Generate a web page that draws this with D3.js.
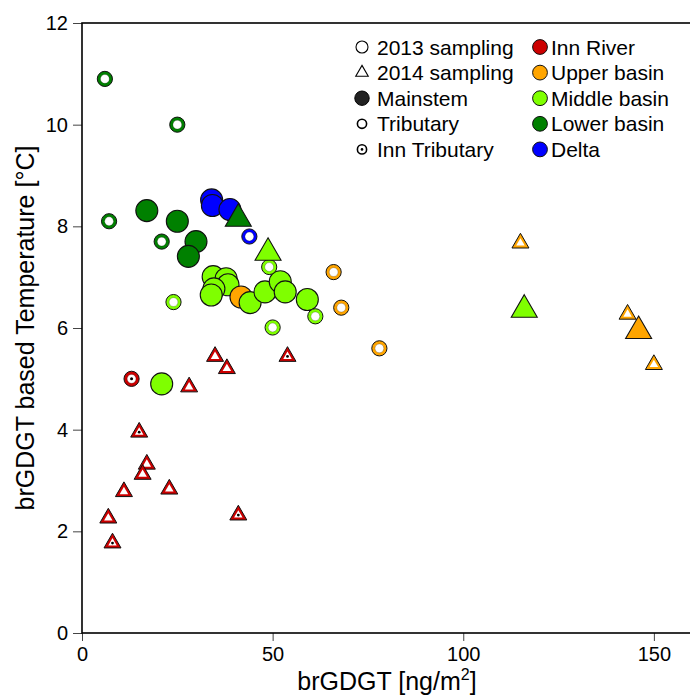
<!DOCTYPE html>
<html>
<head>
<meta charset="utf-8">
<script src="https://cdn.jsdelivr.net/npm/d3@7/dist/d3.min.js"></script>
<style>
  body { margin: 0; background: #fff; }
  svg text { font-family: "Liberation Sans", Arial, Helvetica, sans-serif; fill: #000; }
</style>
</head>
<body>
<svg id="chart" width="690" height="695"></svg>
<script>
// ---- data -------------------------------------------------------------
const regions = ["Inn River", "Upper basin", "Middle basin", "Lower basin", "Delta"];
const samplingLabels = ["2013 sampling", "2014 sampling", "Mainstem", "Tributary", "Inn Tributary"];
const xTicks = [0, 50, 100, 150];
const yTicks = [0, 2, 4, 6, 8, 10, 12];

// [region, brGDGT (ng/m2), temperature (°C)]
const mainstem2013 = [
  ["Lower basin", 17.0, 8.31],
  ["Lower basin", 25.0, 8.10],
  ["Lower basin", 29.9, 7.70],
  ["Lower basin", 27.9, 7.41],
  ["Delta", 34.0, 8.52],
  ["Delta", 34.2, 8.41],
  ["Delta", 38.8, 8.33],
  ["Middle basin", 34.4, 7.01],
  ["Middle basin", 37.8, 6.97],
  ["Middle basin", 38.3, 6.85],
  ["Middle basin", 34.6, 6.77],
  ["Middle basin", 33.9, 6.65],
  ["Upper basin", 41.7, 6.61],
  ["Middle basin", 44.1, 6.50],
  ["Middle basin", 48.0, 6.71],
  ["Middle basin", 52.0, 6.91],
  ["Middle basin", 53.3, 6.71],
  ["Middle basin", 59.1, 6.56],
  ["Middle basin", 20.9, 4.90]
];
const tributary2013 = [
  ["Lower basin", 6.0, 10.90],
  ["Lower basin", 25.0, 10.00],
  ["Lower basin", 7.1, 8.10],
  ["Lower basin", 20.9, 7.70],
  ["Delta", 43.9, 7.80],
  ["Middle basin", 49.1, 7.20],
  ["Middle basin", 24.0, 6.51],
  ["Middle basin", 50.0, 6.01],
  ["Middle basin", 61.2, 6.23],
  ["Upper basin", 66.0, 7.10],
  ["Upper basin", 68.0, 6.40],
  ["Upper basin", 78.0, 5.60]
];
const innTributary2013 = [
  ["Inn River", 13.0, 5.00]
];
const mainstem2014 = [
  ["Lower basin", 41.0, 8.15],
  ["Middle basin", 48.8, 7.48],
  ["Middle basin", 116.0, 6.36],
  ["Upper basin", 146.0, 5.94]
];
const tributary2014 = [
  ["Inn River", 34.9, 5.44],
  ["Inn River", 38.0, 5.20],
  ["Inn River", 28.1, 4.84],
  ["Inn River", 17.0, 3.32],
  ["Inn River", 15.9, 3.12],
  ["Inn River", 11.0, 2.78],
  ["Inn River", 22.9, 2.83],
  ["Inn River", 6.9, 2.26],
  ["Upper basin", 115.0, 7.67],
  ["Upper basin", 143.1, 6.27],
  ["Upper basin", 150.0, 5.28]
];
const innTributary2014 = [
  ["Inn River", 15.0, 3.95],
  ["Inn River", 41.0, 2.32],
  ["Inn River", 8.0, 1.77],
  ["Inn River", 53.9, 5.44]
];

// ---- layout -----------------------------------------------------------
const svg = d3.select("#chart");
const plot = { left: 82, right: 692, top: 23, bottom: 633 };

const x = d3.scaleLinear().domain([0, 160]).range([plot.left, plot.right]);
const y = d3.scaleLinear().domain([0, 12]).range([plot.bottom, plot.top]);
const color = d3.scaleOrdinal()
  .domain(regions)
  .range(["#cc0000", "#ffa500", "#7fff00", "#008000", "#0000ff"]);

const triArea = side => Math.sqrt(3) / 4 * side * side;
const triangle = side => d3.symbol().type(d3.symbolTriangle).size(triArea(side))();

// ---- axes -------------------------------------------------------------
const xAxis = svg.append("g")
  .attr("transform", `translate(0,${plot.bottom})`)
  .call(d3.axisBottom(x).tickValues(xTicks).tickFormat(d3.format("d")).tickSize(8).tickPadding(6));
const yAxis = svg.append("g")
  .attr("transform", `translate(${plot.left},0)`)
  .call(d3.axisLeft(y).tickValues(yTicks).tickFormat(d3.format("d")).tickSize(9).tickPadding(5));

[xAxis, yAxis].forEach(g => {
  g.select(".domain").remove();
  g.selectAll(".tick line").attr("stroke", "#444").attr("stroke-width", 1);
  g.selectAll(".tick text").attr("font-size", 20).attr("fill", "#000");
});

// plot frame
svg.append("rect")
  .attr("x", plot.left).attr("y", plot.top)
  .attr("width", plot.right - plot.left).attr("height", plot.bottom - plot.top)
  .attr("fill", "none").attr("stroke", "#000").attr("stroke-width", 1.6);

// axis titles
const xTitle = svg.append("text")
  .attr("x", (plot.left + plot.right) / 2).attr("y", 690)
  .attr("text-anchor", "middle").attr("font-size", 25);
xTitle.append("tspan").text("brGDGT [ng/m");
xTitle.append("tspan").attr("font-size", 16).attr("dy", -10).text("2");
xTitle.append("tspan").attr("dy", 10).text("]");

svg.append("text")
  .attr("transform", `translate(34,${(plot.top + plot.bottom) / 2}) rotate(-90)`)
  .attr("text-anchor", "middle").attr("font-size", 25)
  .text("brGDGT based Temperature [°C]");

// ---- marks ------------------------------------------------------------
const marks = svg.append("g");

// 2013 mainstem: filled circles
marks.selectAll(".ms13").data(mainstem2013).join("circle")
  .attr("cx", d => x(d[1])).attr("cy", d => y(d[2])).attr("r", 11)
  .attr("fill", d => color(d[0])).attr("stroke", "#111").attr("stroke-width", 1.1);

// 2013 tributaries: coloured rings
function ring(sel, data, dotted) {
  const g = sel.selectAll(null).data(data).join("g")
    .attr("transform", d => `translate(${x(d[1])},${y(d[2])})`);
  g.append("circle").attr("r", 7.6)
    .attr("fill", d => color(d[0])).attr("stroke", "#111").attr("stroke-width", 1);
  g.append("circle").attr("r", 4.4)
    .attr("fill", "#fff").attr("stroke", "rgba(0,0,0,0.35)").attr("stroke-width", 0.6);
  if (dotted) g.append("circle").attr("r", 1.5).attr("fill", "#000");
}
ring(marks, tributary2013, false);
ring(marks, innTributary2013, true);

// 2014 mainstem: filled triangles
marks.selectAll(".ms14").data(mainstem2014).join("path")
  .attr("transform", d => `translate(${x(d[1])},${y(d[2])})`)
  .attr("d", triangle(26))
  .attr("fill", d => color(d[0])).attr("stroke", "#111").attr("stroke-width", 1.1);

// 2014 tributaries: outlined triangles with white centre
function hollowTri(sel, data, dotted) {
  const g = sel.selectAll(null).data(data).join("g")
    .attr("transform", d => `translate(${x(d[1])},${y(d[2])})`);
  g.append("path").attr("d", triangle(17))
    .attr("fill", d => color(d[0])).attr("stroke", "#111").attr("stroke-width", 1);
  g.append("path").attr("d", triangle(8.5)).attr("fill", "#fff");
  if (dotted) g.append("circle").attr("r", 1.4).attr("fill", "#000");
}
hollowTri(marks, tributary2014, false);
hollowTri(marks, innTributary2014, true);

// ---- legend -----------------------------------------------------------
const rowY = i => 47 + i * 25.6;
const legend = svg.append("g");

const left = legend.selectAll(null).data(samplingLabels).join("g")
  .attr("transform", (d, i) => `translate(362,${rowY(i)})`);
left.append("text").attr("x", 15).attr("dy", "0.36em").attr("font-size", 21).text(d => d);

left.filter((d, i) => i === 0).append("circle")
  .attr("r", 6).attr("fill", "#fff").attr("stroke", "#000").attr("stroke-width", 1.1);
left.filter((d, i) => i === 1).append("path")
  .attr("d", triangle(12.5)).attr("fill", "#fff").attr("stroke", "#000").attr("stroke-width", 1.1);
left.filter((d, i) => i === 2).append("circle")
  .attr("r", 7.2).attr("fill", "#222").attr("stroke", "#000");
left.filter((d, i) => i === 3).append("circle")
  .attr("r", 4.6).attr("fill", "#fff").attr("stroke", "#000").attr("stroke-width", 1.6);
const innKey = left.filter((d, i) => i === 4);
innKey.append("circle").attr("r", 4.6).attr("fill", "#fff").attr("stroke", "#000").attr("stroke-width", 1.6);
innKey.append("circle").attr("r", 1.3).attr("fill", "#000");

const right = legend.selectAll(null).data(regions).join("g")
  .attr("transform", (d, i) => `translate(540,${rowY(i)})`);
right.append("circle").attr("r", 7.4)
  .attr("fill", d => color(d)).attr("stroke", "#111").attr("stroke-width", 1);
right.append("text").attr("x", 11).attr("dy", "0.36em").attr("font-size", 21).text(d => d);
</script>
</body>
</html>
